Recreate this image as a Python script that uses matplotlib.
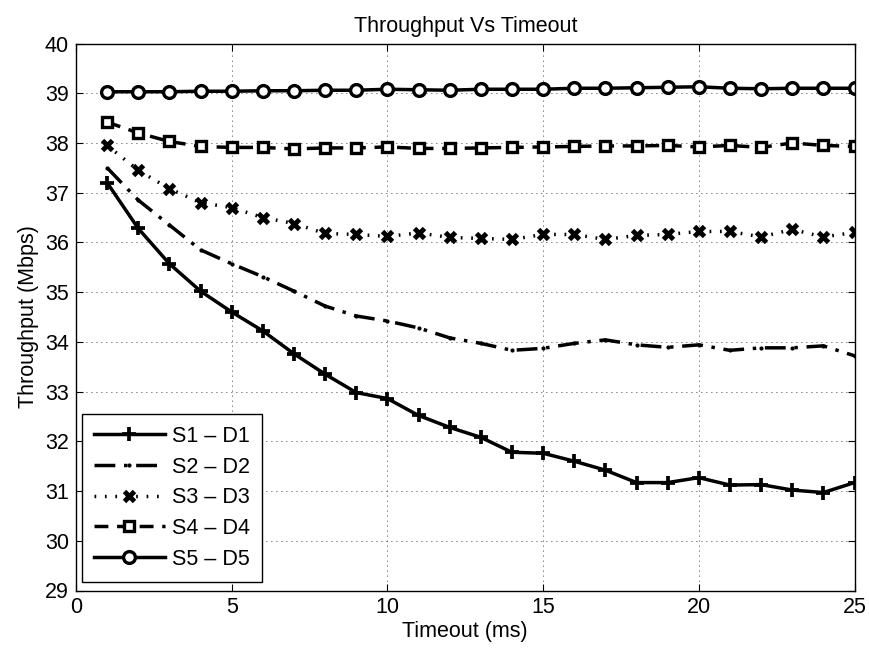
import matplotlib
matplotlib.use("Agg")
import matplotlib.pyplot as plt

plt.rcParams['font.family'] = ['Liberation Sans', 'DejaVu Sans']

timeout = list(range(1, 26))
s1 = [37.20, 36.28, 35.57, 35.02, 34.60, 34.22, 33.76, 33.35, 32.98, 32.86,
      32.52, 32.28, 32.08, 31.78, 31.76, 31.60, 31.42, 31.17, 31.17, 31.27,
      31.12, 31.13, 31.02, 30.97, 31.17]
s2 = [37.50, 36.85, 36.35, 35.85, 35.57, 35.31, 35.02, 34.72, 34.52, 34.42,
      34.28, 34.08, 33.97, 33.83, 33.87, 33.97, 34.04, 33.94, 33.89, 33.94,
      33.83, 33.88, 33.88, 33.92, 33.72]
s3 = [37.95, 37.45, 37.08, 36.80, 36.70, 36.50, 36.38, 36.18, 36.16, 36.12,
      36.19, 36.10, 36.08, 36.06, 36.16, 36.16, 36.06, 36.14, 36.16, 36.22,
      36.22, 36.11, 36.26, 36.11, 36.20]
s4 = [38.42, 38.20, 38.03, 37.93, 37.91, 37.91, 37.88, 37.90, 37.90, 37.92,
      37.89, 37.89, 37.90, 37.91, 37.92, 37.93, 37.94, 37.94, 37.95, 37.92,
      37.95, 37.91, 38.00, 37.95, 37.93]
s5 = [39.03, 39.03, 39.03, 39.04, 39.04, 39.05, 39.05, 39.06, 39.06, 39.08,
      39.07, 39.06, 39.08, 39.08, 39.08, 39.10, 39.10, 39.11, 39.12, 39.13,
      39.10, 39.09, 39.10, 39.10, 39.10]
labels = ['S1 \u2013 D1', 'S2 \u2013 D2', 'S3 \u2013 D3', 'S4 \u2013 D4', 'S5 \u2013 D5']

fig = plt.figure(figsize=(8.69, 6.53), dpi=100)
ax = fig.add_axes([76 / 869, (653 - 590.5) / 653, 778.5 / 869, 547 / 653])

lw = 2.5
ax.plot(timeout, s1, color='black', lw=lw, ls='-', marker='+', ms=9.5, mew=2.7, label=labels[0])
ax.plot(timeout, s2, color='black', lw=lw, ls=(0, (6, 2.5, 1, 2.5)), marker='.', ms=4, label=labels[1])
ax.plot(timeout, s3, color='black', lw=lw, ls=(0, (0.5, 2.5)), marker='x', ms=7, mew=3.5, label=labels[2])
ax.plot(timeout, s4, color='black', lw=lw, ls=(0, (4, 2.5)), marker='s', ms=6.5, mew=2.4,
        mfc='white', mec='black', label=labels[3])
ax.plot(timeout, s5, color='black', lw=lw, ls='-', marker='o', ms=8.5, mew=2.4,
        mfc='white', mec='black', label=labels[4])

ax.set_xlim(0, 25)
ax.set_ylim(29, 40)
ax.set_xticks([0, 5, 10, 15, 20, 25])
ax.set_yticks(range(29, 41))
ax.tick_params(direction='in', top=True, right=True, labelsize=15.5, length=5, width=0.8, pad=5)
ax.grid(True, color='black', ls=(0, (1, 5)), lw=0.6)
for sp in ax.spines.values():
    sp.set_linewidth(1.0)

ax.set_title('Throughput Vs Timeout', fontsize=15.5, pad=8)
ax.set_xlabel('Timeout (ms)', fontsize=15.5, labelpad=2)
ax.set_ylabel('Throughput (Mbps)', fontsize=15.5, labelpad=4)

leg = ax.legend(loc='lower left', fontsize=15.5, handlelength=3.3, handletextpad=0.35,
                frameon=True, fancybox=False, edgecolor='black', framealpha=1,
                borderpad=0.55, labelspacing=0.45, borderaxespad=0,
                bbox_to_anchor=(6 / 778.5, 9 / 547))
leg.get_frame().set_linewidth(1.0)

fig.savefig('out.png', dpi=100)
